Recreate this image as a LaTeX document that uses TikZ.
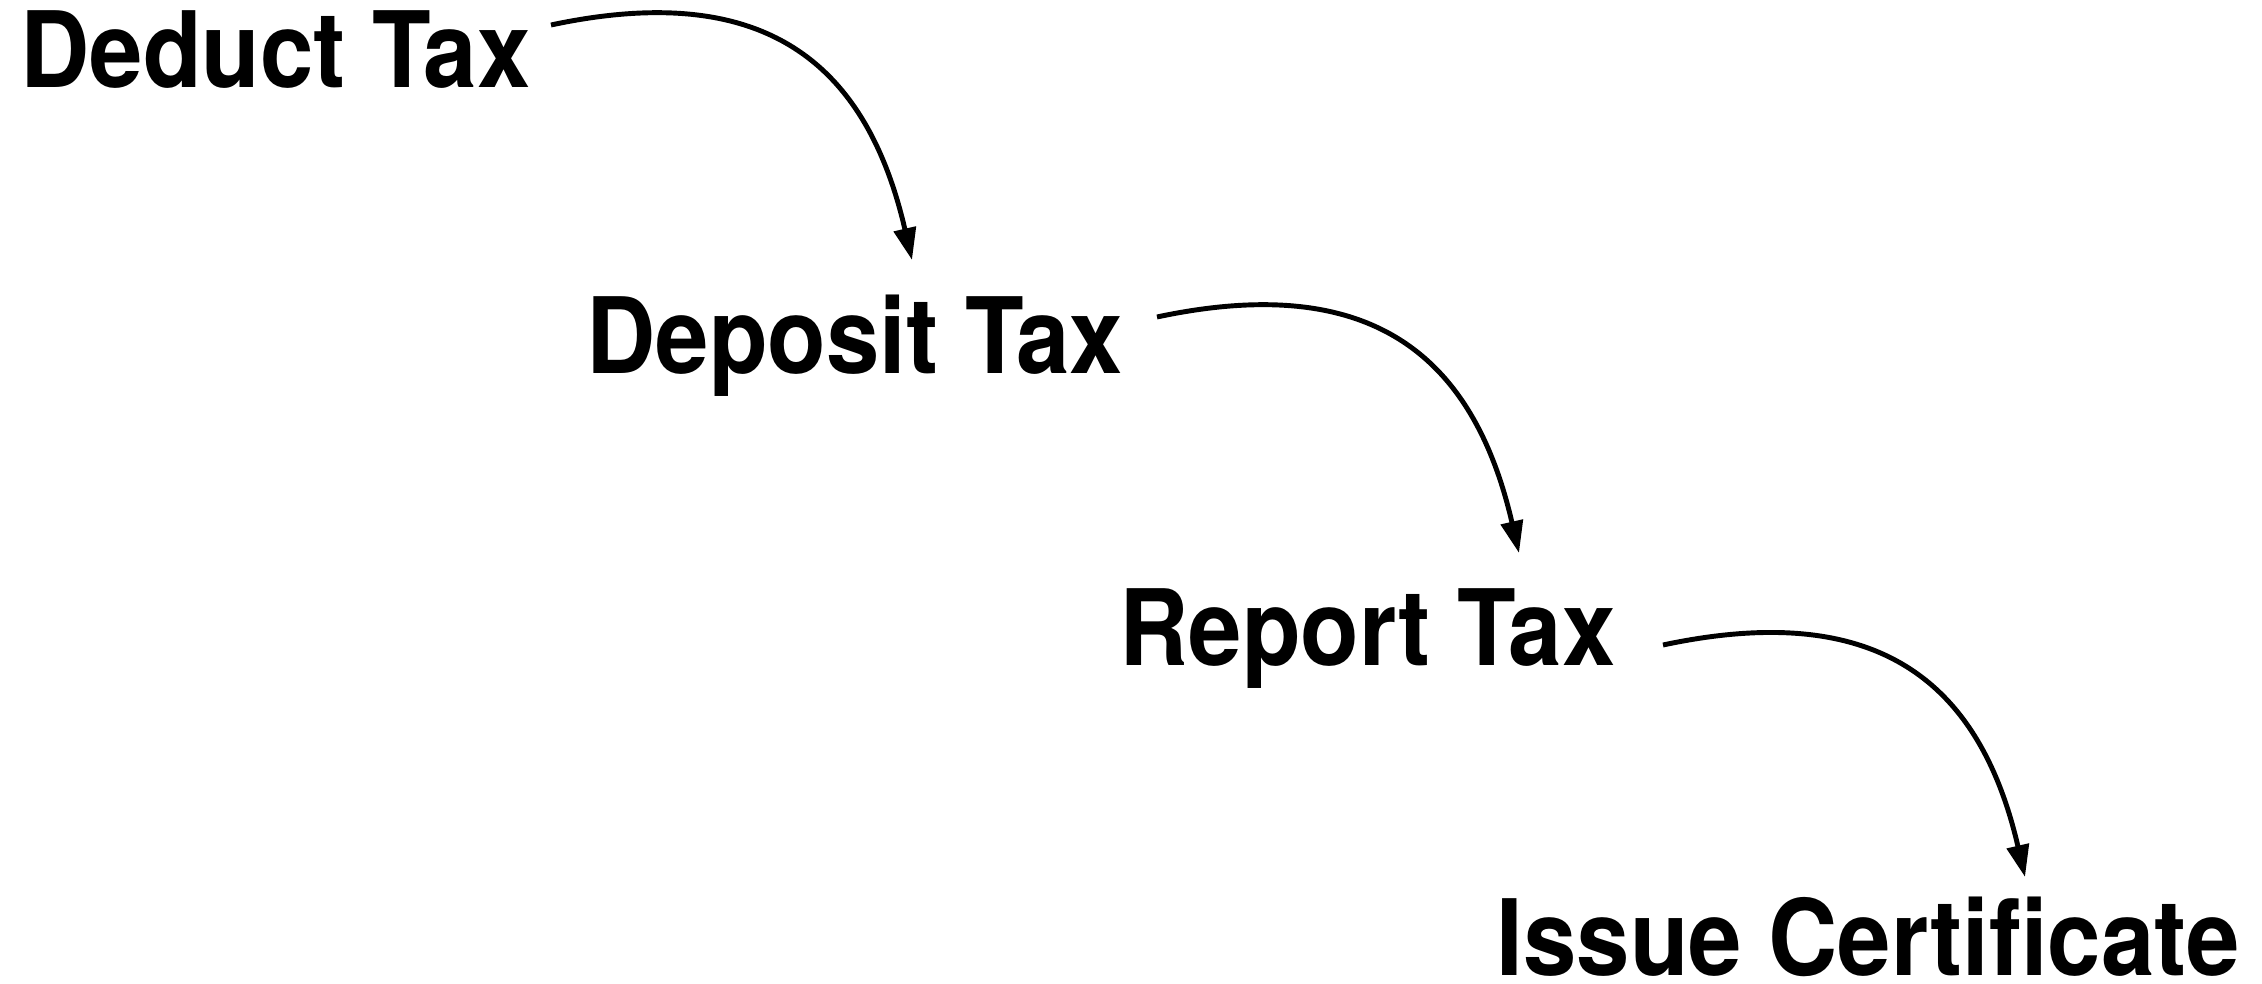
\documentclass[tikz,border=0pt]{standalone}
\usepackage{fontspec}
\newfontfamily\stagefont[FakeStretch=0.91]{TeX Gyre Heros}
\usetikzlibrary{arrows.meta,calc}
\tikzset{
  stage/.style={anchor=base west, inner sep=0pt, font=\stagefont\fontsize{30}{36}\selectfont\bfseries},
  flow/.style={-{Triangle[length=0.32cm,width=0.22cm]}, line width=1.4pt, out=12, in=103, looseness=1.25}
}
\begin{document}
\begin{tikzpicture}
      \useasboundingbox (0,0) rectangle (22.62,9.84);
      \node[stage] (deduct) at (0.20,8.96) {Deduct Tax};
      \node[stage] (deposit) at (5.86,6.10) {Deposit Tax};
      \node[stage] (report) at (11.19,3.18) {Report Tax};
      \node[stage] (issue) at (14.96,0.08) {Issue Certificate};
      \begin{scope}[flow]
        \draw ($(deduct.base west)+(5.31,0.63)$) to ($(deposit.base west)+(3.26,1.14)$);
        \draw ($(deposit.base west)+(5.71,0.57)$) to ($(report.base west)+(4.00,1.13)$);
        \draw ($(report.base west)+(5.44,0.21)$) to ($(issue.base west)+(5.29,0.99)$);
      \end{scope}
    \end{tikzpicture}
\end{document}
